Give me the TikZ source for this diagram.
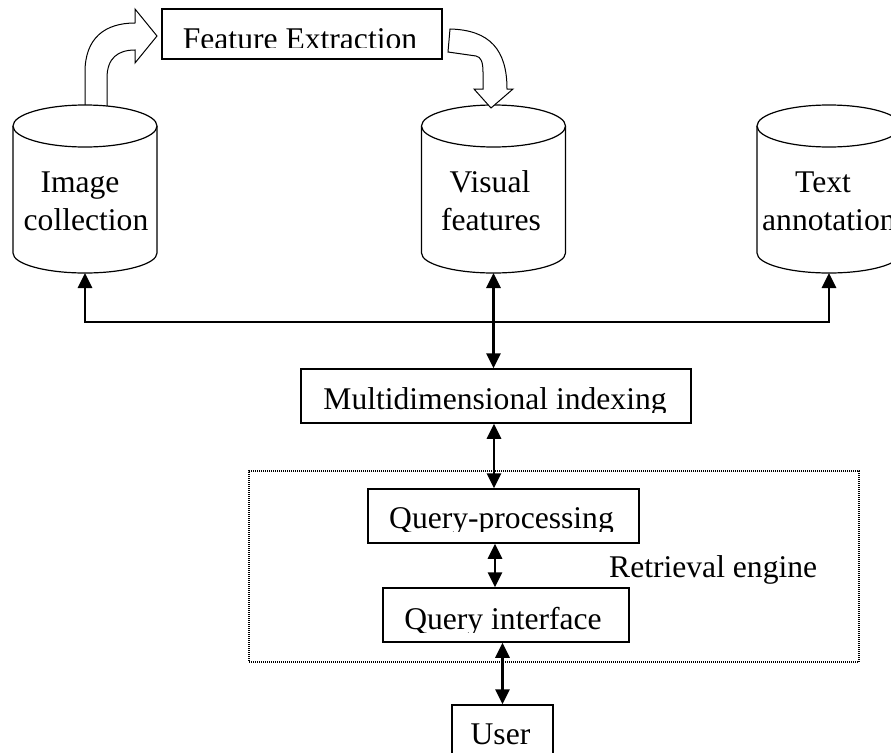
\documentclass[tikz,border=0pt]{standalone}
\usepackage{fontspec}
\setmainfont{Liberation Serif}
\usetikzlibrary{arrows.meta}
\tikzset{
  lbl/.style={font=\fontsize{31.6}{38}\selectfont, inner sep=0pt, anchor=base},
  boxn/.style={draw, line width=1.5pt, inner sep=0pt, fill=white},
  cyl/.style={line width=1.2pt},
  blockarrow/.style={draw, fill=white, line width=1pt, line join=miter},
  conn/.style={line width=2.8pt},
  tri/.tip={Triangle[length=15pt,width=14pt]},
  grp/.style={draw, line width=1.5pt, dash pattern=on 1pt off 1pt, inner sep=0pt}
}
\newcommand\dbcylinder[1]{%
  \fill[white] (#1-72,126) -- (#1-72,253) arc[start angle=180,end angle=360,x radius=72pt,y radius=20pt] -- (#1+72,126) -- cycle;
  \draw[cyl] (#1-72,126) -- (#1-72,253) arc[start angle=180,end angle=360,x radius=72pt,y radius=20pt] -- (#1+72,126);
  \draw[cyl,fill=white] (#1,126) ellipse[x radius=72pt,y radius=21pt];
}
\begin{document}
\begin{tikzpicture}[x=1pt,y=-1pt]
\useasboundingbox (0,0) rectangle (891,752);
\clip (0,0) rectangle (891,752);

% block arrow from image collection to feature extraction
\path[blockarrow] (85,108) -- (85,72) .. controls (85,38) and (105,23) .. (135,23) -- (135,9) -- (157,36) -- (135,63) -- (135,50) .. controls (118,50) and (107,58) .. (107,78) -- (107,108);

% cylinders
\dbcylinder{85}
\dbcylinder{493.5}
\dbcylinder{829}
\coordinate (ic-bot) at (85,273);
\coordinate (vf-bot) at (493.5,273);
\coordinate (ta-bot) at (829,273);

\node[lbl] (ic1) at (80,192) {Image};
\node[lbl] (ic2) at (86,230) {collection};
\node[lbl] (vf1) at (490,192) {Visual};
\node[lbl] (vf2) at (491,230) {features};
\node[lbl] (ta1) at (823,192) {Text};
\node[lbl, anchor=base west] (ta2) at (762,230) {annotation};

% feature extraction box
\node[boxn, minimum width=280pt, minimum height=50pt] (fe) at (302,34) {};
\begin{scope}
  \clip (162,9) rectangle (442,47.5);
  \node[lbl] (fet) at (300,49) {Feature Extraction};
\end{scope}

% block arrow from feature extraction to visual features
\path[blockarrow] (450,29) .. controls (490,30) and (507,50) .. (507,89) -- (513,89) -- (491,108) -- (474,89) -- (483,89) -- (483,72) .. controls (483,62) and (481,57) .. (476,56) -- (448,52) -- cycle;

% retrieval engine group
\node[grp, minimum width=610pt, minimum height=191pt] (re) at (554,566.5) {};
\node[lbl, anchor=base west] (ret) at (609,577) {Retrieval engine};

% boxes
\node[boxn, minimum width=390pt, minimum height=54pt] (mi) at (496,396) {};
\begin{scope}
  \clip (301,369) rectangle (691,412);
  \node[lbl] (mit) at (495,409) {Multidimensional indexing};
\end{scope}

\node[boxn, minimum width=271pt, minimum height=54pt] (qp) at (503.5,516) {};
\begin{scope}
  \clip (368,489) rectangle (639,531);
  \node[lbl] (qpt) at (501.5,528) {Query-processing};
\end{scope}

\node[boxn, minimum width=246pt, minimum height=54pt] (qi) at (506,615) {};
\begin{scope}
  \clip (383,588) rectangle (629,632);
  \node[lbl] (qit) at (503,629) {Query interface};
\end{scope}

\node[boxn, minimum width=101pt, minimum height=70pt] (user) at (502.5,740) {};
\node[lbl] (usert) at (500.5,744) {User};

% connectors
\draw[conn, {tri}-{tri}] (ic-bot) -- ++(0,49) -| (ta-bot);
\draw[conn, {tri}-{tri}] (vf-bot) -- (vf-bot |- mi.north);
\draw[conn, {tri}-{tri}] (mi.south -| 494,0) -- (qp.north -| 494,0);
\draw[conn, {tri}-{tri}] (qp.south -| 495,0) -- (qi.north -| 495,0);
\draw[conn, {tri}-{tri}] (qi.south -| user.north) -- (user.north);
\end{tikzpicture}
\end{document}
